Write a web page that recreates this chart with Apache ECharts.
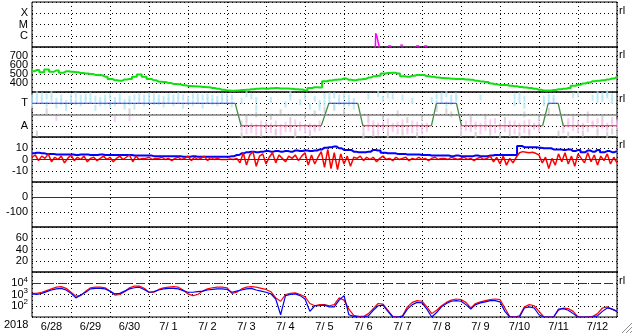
<!DOCTYPE html>
<html>
<head>
<meta charset="utf-8">
<script src="https://cdn.jsdelivr.net/npm/echarts@6/dist/echarts.min.js"></script>
<style>
html, body { margin: 0; padding: 0; background: #fff; }
#chart { width: 633px; height: 334px; }
</style>
</head>
<body>
<div id="chart"></div>
<script>
// time runs in hours from 2018-06-28 00:00 to 2018-07-13 00:00
const dayLabels = ['6/28', '6/29', '6/30', '7/ 1', '7/ 2', '7/ 3', '7/ 4', '7/ 5',
  '7/ 6', '7/ 7', '7/ 8', '7/ 9', '7/10', '7/11', '7/12'];

// x-ray flux (log10), a short flare on 7/6 plus a few low readings
const xrayHours = [211.3, 211.5, 212.3, 213.1, 213.9, 214.1];
const xrayLog = [-7.2, -5.78, -6.08, -6.62, -6.7, -7.2];
const xrayDotHours = [220.1, 227.5, 237.3, 242.3];
const xrayDotLog = [-6.91, -6.85, -6.91, -6.91];

// solar wind speed, every 3 h
const speed = [530, 545, 520, 550, 525, 540, 515, 530, 525, 520,
  510, 505, 500, 490, 485, 470, 445, 430, 425, 440,
  445, 470, 495, 470, 445, 430, 415, 410, 400, 390,
  385, 375, 368, 365, 360, 355, 352, 345, 335, 325,
  318, 315, 318, 322, 325, 330, 335, 338, 337, 342,
  345, 340, 338, 335, 330, 328, 318, 345, 352, 350,
  420, 428, 435, 440, 450, 435, 430, 438, 445, 460,
  475, 480, 505, 510, 515, 505, 475, 470, 480, 490,
  488, 475, 470, 460, 455, 452, 448, 445, 444, 440,
  435, 425, 418, 412, 395, 385, 378, 378, 370, 365,
  355, 350, 345, 335, 325, 318, 318, 322, 330, 335,
  345, 370, 380, 395, 405, 420, 425, 430, 440, 450, 470];

// sector boundaries (T = toward, A = away)
const sectorHours = [0, 125, 128.7, 178, 182.7, 200.5, 203.6, 245.8, 248.9, 261.2, 264.3, 314.2, 317.7, 323.8, 326.9, 360];
const sectorLevels = ['T', 'T', 'A', 'A', 'T', 'T', 'A', 'A', 'T', 'T', 'A', 'A', 'T', 'T', 'A', 'A'];

// IMF direction points, every 3 h (4 = top, 0 = bottom)
const towardA = [3.5, 3.8, 3.2, 3.6, 3.4, 2.8, 3.1, 2.6, 3.3, 3.7,
  3.5, 3.6, 3.2, 3.4, 3.0, 3.5, 2.9, 3.3, 3.6, 3.1,
  3.4, 2.7, 3.2, 3.5, 3.3, 3.6, 3.1, 3.4, 3.2, 3.5,
  3.3, 2.8, 3.4, 3.6, 3.2, 3.5, 3.3, 3.1, 3.4, 3.6,
  3.2, 3.5, null, 3.2, null, 3.6, 2.6, null, null, 3.3,
  null, null, 2.9, 3.5, null, 3.1, null, 2.7, 3.4, 3.0,
  3.6, 3.3, 3.7, 3.1, 2.9, 3.5, 3.2, null, null, 3.6,
  null, null, 3.4, 3.7, null, null, 3.5, null, 3.2, null,
  null, null, 3.3, 3.6, 3.2, 3.8, 3.1, 3.4, null, null,
  null, null, 3.5, null, null, null, null, null, null, 3.6,
  3.2, 2.8, null, null, null, 3.4, 3.1, 3.5, null, null,
  null, 3.7, null, null, null, 3.5, 3.8, 3.4, 3.7, 3.6, null];
const towardB = [3.0, 3.3, 3.7, 2.9, 3.8, 3.2, 3.5, 3.0, 3.6, 3.1,
  3.0, 3.3, 3.7, 2.6, 3.3, 3.1, 3.6, 3.0, 3.2, 2.7,
  3.1, 3.5, 3.6, 3.0, 3.7, 3.1, 3.5, 2.9, 3.6, 3.0,
  3.7, 3.5, 3.1, 3.0, 3.6, 2.8, 3.6, 3.5, 3.0, 3.2,
  3.6, 2.9, null, null, 3.8, null, 3.3, null, null, null,
  null, null, null, 3.8, null, null, 3.6, null, null, 2.6,
  3.0, 3.7, 2.8, 3.5, 3.6, 3.0, 2.7, null, null, null,
  null, 3.8, null, null, 3.6, null, null, null, null, null,
  null, null, null, 3.0, 3.7, 2.9, 3.5, 3.7, null, null,
  null, null, null, null, null, null, null, null, null, 3.0,
  3.7, 3.4, null, null, null, 3.0, 3.6, 3.2, null, null,
  null, null, 3.8, null, null, null, 3.3, 3.7, 3.9, 3.2, null];
const awayA = [null, null, null, null, null, 1.7, null, null, null, null,
  null, null, null, null, null, null, null, null, null, null,
  1.7, null, null, null, null, null, null, null, null, null,
  null, null, null, null, null, null, null, null, null, null,
  null, null, null, 0.8, 1.1, 0.6, 0.9, 1.2, 0.7, 1.0,
  0.5, 0.9, 1.1, 0.7, 1.3, 0.8, 0.6, 1.0, 0.9, 1.2,
  null, null, null, null, null, null, null, null, 0.9, 1.3,
  0.6, 1.0, 0.8, 1.4, 0.7, 1.1, 0.9, 0.5, 1.2, 0.8,
  1.0, 0.7, null, null, null, null, null, null, 1.1, 0.8,
  1.3, 0.9, 1.0, 1.2, 0.7, 1.4, 0.9, 1.1, 0.8, 1.2,
  1.0, 0.6, 1.3, 0.9, 1.1, null, null, null, null, 1.0,
  1.4, 0.8, 1.2, 0.9, 1.5, 1.1, 0.7, 1.3, 1.0, 1.2, 0.9];
const awayB = [null, null, null, null, null, null, null, null, null, null,
  null, null, null, null, null, null, null, 1.6, null, null,
  null, null, null, null, null, null, null, null, null, null,
  null, null, null, null, null, null, null, null, null, null,
  null, null, null, 1.2, 0.5, 1.0, 0.4, 0.8, 1.1, 0.6,
  1.2, 0.4, 0.7, 1.0, 0.5, 1.1, 0.9, 0.4, 0.7, 0.8,
  null, null, null, null, null, null, null, null, 0.5, 0.8,
  1.2, 0.4, 1.1, 0.6, 1.0, 0.5, 1.3, 0.8, 0.6, 1.1,
  0.5, 1.0, null, null, null, null, null, null, 0.6, 1.2,
  0.7, 1.1, 0.5, 0.8, 1.3, 0.6, 1.0, 0.7, 1.2, 0.5,
  0.8, 1.2, 0.5, 1.0, 0.7, null, null, null, null, 0.6,
  1.1, 1.3, 0.6, 1.0, 0.7, 1.2, 1.4, 1.0, 0.8, 1.5, 1.3];
const neutral = [2.8, 0.3, null, 2.3, null, null, null, null, null, null,
  null, null, null, null, null, null, null, null, null, null,
  2.3, null, null, null, null, null, null, null, null, null,
  null, null, null, null, null, null, null, null, null, null,
  null, null, null, 0.2, 1.6, null, 2.0, 0.3, null, 1.8,
  0.4, 2.2, null, 1.5, 0.2, null, 1.9, 0.3, 2.1, null,
  2.4, null, 2.6, null, 2.2, null, null, null, 0.1, 1.6,
  0.3, null, 1.8, 0.2, null, 2.1, 0.4, 1.5, null, 0.2,
  1.7, null, null, 2.5, null, 2.3, 2.0, null, 0.3, null,
  1.6, 0.2, null, 1.8, 0.4, null, 0.1, 1.5, 0.3, null,
  0.2, 2.0, 0.4, null, 1.7, null, 2.3, null, 0.3, null,
  0.2, 1.8, null, 0.3, 2.0, null, 0.4, 1.6, 0.2, 0.5, 0.3];

// magnetic field Bt, every 3 h
const bt = [5.5, 6, 5.5, 5, 5, 4.5, 4.5, 4.5, 4.5, 4,
  4.5, 4.5, 4, 4, 4.5, 4, 4, 4, 4, 4,
  4, 3.5, 3.5, 3.5, 3.5, 3, 3, 3, 3, 3,
  3, 2.5, 2.5, 3, 2.5, 2.5, 2.5, 2.5, 2.5, 2.5,
  2.5, 3, 4, 5.5, 6.5, 7, 6.5, 7, 7.5, 7,
  7.5, 7, 7.5, 7, 8, 7.5, 8, 7.5, 8, 9,
  10.5, 11, 11.5, 10, 8.5, 8.5, 7, 6.5, 6.5, 7,
  8.5, 8, 6, 5.5, 5.5, 5, 5, 4.5, 4.5, 4.5,
  4, 4, 3.5, 3.5, 3.5, 3.5, 3, 3.5, 3, 3,
  3, 3.5, 3, 3, 3.5, 4, 4, 4, 4, 4,
  12, 11, 11, 11, 10.5, 10, 10, 9, 9, 8.5,
  9, 7.5, 8.5, 6.5, 8, 7, 8.5, 6.5, 7.5, 6.5, 7.5];
// Bz, every 2 h
const bz = [2, 4, -1, 3, 1, 5, -2, 2, 0, 3,
  -3, 1, 4, -1, 2, 0, 3, -2, 1, 2,
  -1, 1, 3, 0, 2, -2, 1, 3, 0, 2,
  4, -2, 3, 0, 1, 1, 2, 0, 1, 1,
  2, 0, 1, -1, 1, 2, 0, 1, 3, -1,
  2, 0, 1, 3, -1, 2, 0, 1, 0, 0,
  0, 0.5, 0, 1, -3, 6, -5, 4, 7, -6,
  3, 5, -4, 2, 6, -3, 4, 1, -2, 3,
  1, 4, -1, 3, 6, -5, 4, -4, 2, 7,
  -7, 9, -8, 6, -9, 5, -4, 3, -6, 2,
  1, 3, -1, 2, 0, 2, -2, 1, 3, 0,
  1, -1, 2, 0, 1, 2, -1, 1, 0, 2,
  0, 1, -1, 1, 2, 0, 1, 1, 0, 2,
  1, 0, 1, 2, 0, 1, -1, 1, 2, 0,
  1, 3, -2, 2, -4, 3, -5, 1, -3, 2,
  6, 7, 6.5, 6, 6.5, 5.5, 4, -3, 2, -8,
  1, -5, 5, -2, 6, -4, 3, -6, 5, 1,
  -3, 6, -2, 4, -5, 3, -1, 5, -4, 2, -3];

// electron flux (log10), every 3 h
const fluxRed = [3.1, 3.1, 3.2, 3.35, 3.5, 3.65, 3.7, 3.55, 3.2, 2.85,
  2.9, 3.3, 3.6, 3.65, 3.65, 3.6, 3.3, 2.95, 3.0, 3.25,
  3.6, 3.75, 3.75, 3.55, 3.2, 3.2, 3.45, 3.6, 3.65, 3.7,
  3.65, 3.4, 3.05, 2.9, 3.0, 3.3, 3.5, 3.6, 3.65, 3.65,
  3.6, 3.1, 3.2, 3.5, 3.65, 3.7, 3.65, 3.55, 3.45, 3.25,
  2.7, 2.4, 3.0, 3.1, 3.15, 3.0, 2.8, 2.2, 2.0, 2.1,
  2.1, 2.0, 2.1, 2.7, 2.5, 1.7, 1.15, 1.05, 1.05, 1.3,
  1.75, 2.2, 2.15, 1.6, 1.05, 1.0, 1.1, 1.9, 2.3, 2.45,
  2.4, 1.9, 1.3, 1.6, 2.0, 2.3, 2.5, 2.6, 2.55, 2.3,
  1.8, 2.2, 2.35, 2.45, 2.55, 2.6, 2.55, 1.8, 1.05, 1.0,
  1.1, 1.9, 2.1, 2.0, 1.5, 1.0, 1.0, 1.0, 1.6, 1.8,
  1.75, 1.5, 1.0, 1.0, 1.0, 1.05, 1.3, 1.8, 1.9, 1.7, 1.5];
const fluxBlue = [3.05, 3.0, 3.1, 3.25, 3.4, 3.5, 3.55, 3.4, 3.1, 2.7,
  2.95, 3.2, 3.5, 3.55, 3.55, 3.5, 3.3, 3.05, 3.1, 3.3,
  3.5, 3.6, 3.65, 3.45, 3.2, 3.25, 3.4, 3.5, 3.55, 3.55,
  3.5, 3.35, 3.2, 3.2, 3.25, 3.3, 3.4, 3.45, 3.5, 3.5,
  3.45, 3.2, 3.3, 3.4, 3.5, 3.55, 3.4, 3.3, 3.2, 3.05,
  2.6, 1.2, 2.9, 3.0, 3.05, 2.9, 2.6, 1.5, 2.0, 2.0,
  2.05, 1.9, 1.9, 2.5, 2.9, 1.2, 1.05, 1.0, 1.0, 1.1,
  1.6, 2.0, 2.05, 1.5, 1.0, 1.0, 1.05, 1.7, 2.1, 2.3,
  2.25, 1.7, 1.0, 1.4, 1.9, 2.2, 2.4, 2.45, 2.4, 2.1,
  1.7, 2.1, 2.25, 2.35, 2.45, 2.45, 2.35, 1.5, 1.0, 1.0,
  1.0, 1.8, 1.9, 1.8, 1.2, 1.0, 1.0, 1.0, 1.7, 1.75,
  1.6, 1.3, 1.0, 1.0, 1.0, 1.0, 1.1, 1.5, 1.8, 1.7, 1.5];

const FONT = 'Liberation Sans';
const dotted = { show: true, lineStyle: { color: '#000', type: [1, 3], width: 1 } };
const panels = 7;

const grids = [];
const xAxes = [];
for (let k = 0; k < panels; k++) {
  grids.push({ left: 32, right: 16, top: 2 + 45 * k, height: 45, show: true,
    borderColor: '#000', borderWidth: 1, backgroundColor: 'transparent' });
  xAxes.push({
    type: 'category', gridIndex: k, data: dayLabels, boundaryGap: true,
    axisLine: { show: false }, axisTick: { show: false },
    axisLabel: { show: k === panels - 1, interval: 0, margin: 4, color: '#000', fontSize: 11, fontFamily: FONT },
    splitLine: Object.assign({ interval: 0 }, dotted)
  });
  xAxes.push({ type: 'value', gridIndex: k, min: 0, max: 360, show: false });
}

function yAxis(k, min, max, interval, formatter) {
  return {
    type: 'value', gridIndex: k, min: min, max: max, interval: interval,
    axisLine: { show: false }, axisTick: { show: false },
    axisLabel: { showMinLabel: false, showMaxLabel: false,
      color: '#000', fontSize: 11, fontFamily: FONT, margin: 4, formatter: formatter,
      rich: { b: { fontSize: 11, fontFamily: FONT, color: '#000' },
              s: { fontSize: 8, fontFamily: FONT, color: '#000', padding: [0, 0, 7, 0] } } },
    splitLine: dotted
  };
}
const yAxes = [
  yAxis(0, -7, -3, 1, v => ({ '-6': 'C', '-5': 'M', '-4': 'X' }[v] || '')),
  yAxis(1, 300, 800, 100),
  yAxis(2, 0, 4, 1, v => ({ 3: 'T', 1: 'A' }[v] || '')),
  yAxis(3, -20, 20, 10),
  yAxis(4, -200, 100, 100),
  yAxis(5, 0, 80, 20),
  yAxis(6, 1, 5, 1, v => '{b|10}{s|' + v + '}')
];

const every = (arr, step) => arr.map((v, i) => [i * step, v]);
const pts = (arr, step) => every(arr, step).filter(p => p[1] != null);
const hLine = (value, color, type, width) => ({
  silent: true, symbol: 'none', label: { show: false },
  lineStyle: { color: color, type: type, width: width }, data: [{ yAxis: value }]
});

const series = [];
// panel 1: x-ray
series.push({ type: 'line', xAxisIndex: 1, yAxisIndex: 0, data: xrayHours.map((h, i) => [h, xrayLog[i]]),
  symbol: 'none', lineStyle: { color: '#ff00ff', width: 1.5 } });
series.push({ type: 'scatter', xAxisIndex: 1, yAxisIndex: 0, data: xrayDotHours.map((h, i) => [h, xrayDotLog[i]]),
  symbol: 'rect', symbolSize: [3, 2], itemStyle: { color: '#ff00ff' } });
// panel 2: speed
series.push({ type: 'line', xAxisIndex: 3, yAxisIndex: 1, data: every(speed, 3), step: 'middle',
  symbol: 'none', lineStyle: { color: '#10e010', width: 2 } });
// panel 3: sector scatter
[[neutral, '#cccccc'], [awayA, '#f8c0f2'], [awayB, '#f8c0f2'], [towardA, '#b0e6f8'], [towardB, '#b0e6f8']].forEach(([arr, c]) => {
  series.push({ type: 'scatter', xAxisIndex: 5, yAxisIndex: 2, data: pts(arr, 3),
    symbol: 'rect', symbolSize: [2, 6], itemStyle: { color: c } });
});
series.push({ type: 'line', xAxisIndex: 5, yAxisIndex: 2, data: [], markLine: hLine(2, '#808080', 'solid', 1.5) });
const lv = { T: 3, A: 1 };
for (let i = 0; i < sectorHours.length - 1; i++) {
  const a = sectorLevels[i], b = sectorLevels[i + 1];
  const color = a !== b ? '#3f8a3f' : (a === 'T' ? '#3030f0' : '#e02020');
  series.push({ type: 'line', xAxisIndex: 5, yAxisIndex: 2, symbol: 'none',
    data: [[sectorHours[i], lv[a]], [sectorHours[i + 1], lv[b]]], lineStyle: { color: color, width: 1.2 } });
}
// panel 4: magnetic field
series.push({ type: 'line', xAxisIndex: 7, yAxisIndex: 3, data: [], markLine: hLine(0, '#b00000', 'solid', 1) });
series.push({ type: 'line', xAxisIndex: 7, yAxisIndex: 3, data: every(bt, 3), step: 'middle',
  symbol: 'none', lineStyle: { color: '#0000ff', width: 2 } });
series.push({ type: 'line', xAxisIndex: 7, yAxisIndex: 3, data: every(bz, 2),
  symbol: 'none', lineStyle: { color: '#ff0000', width: 1.5 } });
// panel 5: zero line
series.push({ type: 'line', xAxisIndex: 9, yAxisIndex: 4, data: [], markLine: hLine(0, '#b00000', 'solid', 1.2) });
// panel 7: electron flux
series.push({ type: 'line', xAxisIndex: 13, yAxisIndex: 6, data: [], markLine: hLine(4, '#b00000', [9, 4], 1.2) });
series.push({ type: 'line', xAxisIndex: 13, yAxisIndex: 6, data: every(fluxRed, 3),
  symbol: 'none', lineStyle: { color: '#ff0000', width: 1.2 } });
series.push({ type: 'line', xAxisIndex: 13, yAxisIndex: 6, data: every(fluxBlue, 3),
  symbol: 'none', lineStyle: { color: '#0000ff', width: 1.2 } });

const sideY = [12, 56, 100, 146, 282];
const graphic = sideY.map(y => ({ type: 'text', left: 619, top: y - 7,
  style: { text: 'rl', fontSize: 11, fontFamily: FONT, fill: '#000' } }));
graphic.push({ type: 'text', left: 4, top: 319, style: { text: '2018', fontSize: 11, fontFamily: FONT, fill: '#000' } });
[[622, 333, 632, 323], [626, 333, 632, 327], [630, 333, 632, 331]].forEach(([x1, y1, x2, y2]) => {
  graphic.push({ type: 'line', shape: { x1, y1, x2, y2 }, style: { stroke: '#909090', lineWidth: 1 } });
});

const chart = echarts.init(document.getElementById('chart'), null, { renderer: 'canvas' });
chart.setOption({
  animation: false,
  backgroundColor: '#fff',
  grid: grids,
  xAxis: xAxes,
  yAxis: yAxes,
  series: series,
  graphic: graphic
});
</script>
</body>
</html>
